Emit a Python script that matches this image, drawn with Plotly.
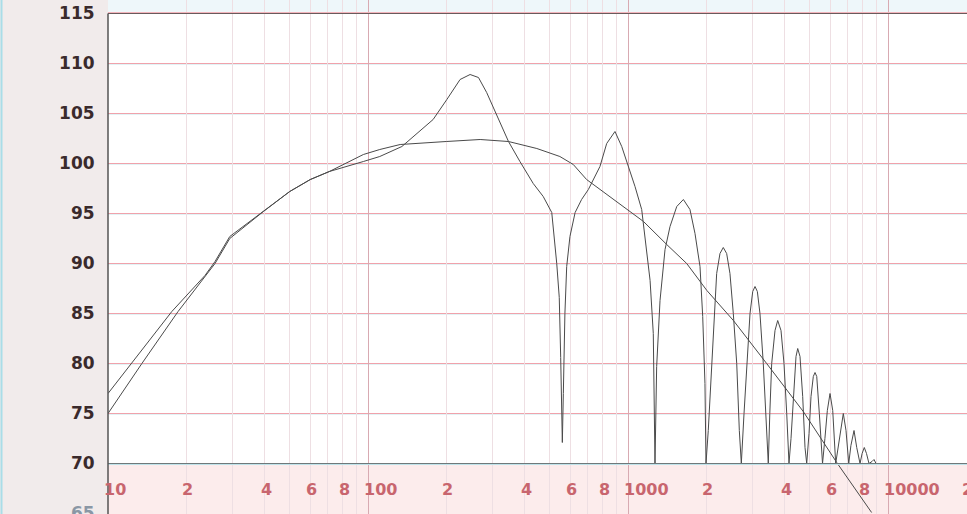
import math
import plotly.graph_objects as go

# ---------------- data ----------------
smooth_freq = [10, 13.5, 18.6, 25.8, 29.4, 39.6, 50, 60, 71, 96, 111, 133, 200, 270, 347,
               446, 547, 616, 693, 780, 879, 1018, 1147, 1409, 1682, 2011, 2543, 3414,
               4721, 6350, 8650]
smooth_db = [75.0, 80.0, 85.2, 90.0, 92.5, 95.2, 97.2, 98.4, 99.2, 100.9, 101.4, 101.9,
             102.2, 102.4, 102.2, 101.5, 100.7, 99.9, 98.4, 97.4, 96.4, 95.2, 94.2, 91.9,
             90.0, 87.3, 84.3, 80.0, 75.2, 70.1, 65.1]

comb_freq = [10, 12.3, 17.6, 23.6, 25.8, 29.4, 39.6, 50, 60, 71, 96, 111, 135, 178, 201,
             226, 247, 266, 286, 308, 347, 384, 432, 472, 494, 509, 532, 544, 551, 556,
             559, 564, 572, 581, 598, 626, 663, 704, 736, 780, 828, 891, 946, 1003, 1064,
             1129, 1181, 1216, 1251, 1270, 1289, 1328, 1388, 1451, 1540, 1633, 1731, 1810,
             1892, 1938, 1977, 1995,
             2036, 2099, 2141, 2193, 2258, 2325, 2396, 2467, 2541, 2619, 2680, 2728,
             2794, 2861, 2946, 3018, 3080, 3144, 3218, 3314, 3416, 3464,
             3511, 3570, 3676, 3765, 3877, 3981, 4078, 4161,
             4236, 4323, 4428, 4495, 4587, 4698, 4795, 4868,
             4969, 5057, 5161, 5240, 5320, 5444, 5600,
             5720, 5843, 5984, 6129, 6293,
             6430, 6578, 6731, 6894, 7062,
             7200, 7402, 7581, 7806,
             7950, 8106, 8266, 8450,
             8679, 8835, 8992]
comb_db = [77.0, 80.0, 85.2, 88.8, 90.2, 92.7, 95.2, 97.2, 98.4, 99.2, 100.2, 100.7, 101.7,
           104.4, 106.4, 108.4, 108.9, 108.6, 107.1, 105.2, 102.2, 100.2, 98.0, 96.7, 95.7,
           95.1, 90.0, 86.6, 80.6, 74.3, 72.1, 77.0, 85.0, 89.7, 92.7, 95.1, 96.4, 97.4,
           98.4, 99.7, 102.0, 103.2, 101.7, 99.7, 97.7, 95.4, 91.4, 88.3, 83.0, 70.0, 79.7,
           86.3, 91.4, 93.7, 95.7, 96.4, 95.4, 93.0, 89.7, 84.7, 78.0, 70.0,
           73.3, 80.0, 85.0, 89.0, 91.0, 91.6, 91.0, 89.0, 85.0, 80.0, 73.3, 70.0,
           75.0, 80.0, 85.0, 87.2, 87.7, 87.2, 85.0, 80.0, 73.3, 70.0,
           75.0, 80.0, 83.3, 84.3, 83.3, 80.0, 75.0, 70.0,
           72.5, 76.7, 80.7, 81.5, 80.7, 76.7, 71.6, 70.0,
           73.0, 76.7, 78.7, 79.1, 78.7, 75.0, 70.0,
           72.5, 75.3, 77.0, 75.3, 70.0,
           71.5, 73.3, 75.0, 73.3, 70.0,
           71.8, 73.3, 71.6, 70.0,
           71.0, 71.6, 71.0, 70.0,
           70.2, 70.4, 70.0]

y_ticks = [70, 75, 80, 85, 90, 95, 100, 105, 110, 115]
x_major = [10, 100, 1000, 10000]
x_minor = [20, 30, 40, 50, 60, 70, 80, 90, 200, 300, 400, 500, 600, 700, 800, 900,
           2000, 3000, 4000, 5000, 6000, 7000, 8000, 9000, 20000]
x_label_vals = [10, 20, 40, 60, 80, 100, 200, 400, 600, 800, 1000, 2000, 4000, 6000,
                8000, 10000, 20000]
x_label_text = ["10", "2", "4", "6", "8", "100", "2", "4", "6", "8", "1000", "2", "4",
                "6", "8", "10000", "2"]

# ---------------- figure ----------------
W, H = 967, 514
L = 108
fig = go.Figure()

line_col = "#4a4a4a"
fig.add_trace(go.Scatter(x=smooth_freq, y=smooth_db, mode="lines",
                         line=dict(color=line_col, width=1), hoverinfo="skip"))
fig.add_trace(go.Scatter(x=comb_freq, y=comb_db, mode="lines",
                         line=dict(color=line_col, width=1), hoverinfo="skip"))

y_hi = 116.35
y_lo = y_hi - H / 10.0
shapes = []
# top light-blue band and bottom pink band
shapes.append(dict(type="rect", xref="paper", yref="y", x0=0, x1=1, y0=115, y1=y_hi,
                   fillcolor="#eef7fa", line=dict(width=0), layer="below"))
shapes.append(dict(type="rect", xref="paper", yref="y", x0=0, x1=1, y0=y_lo, y1=70,
                   fillcolor="#fcecec", line=dict(width=0), layer="below"))
# horizontal grid (pink with a faint cyan shadow)
for yv in y_ticks[1:-1]:
    shapes.append(dict(type="line", xref="paper", yref="y", x0=0, x1=1, y0=yv - 0.1,
                       y1=yv - 0.1, line=dict(color="#e2f3f6", width=1), layer="below"))
    shapes.append(dict(type="line", xref="paper", yref="y", x0=0, x1=1, y0=yv, y1=yv,
                       line=dict(color="#f0a2ab", width=1), layer="below"))
# top border line (pink above dark)
shapes.append(dict(type="line", xref="paper", yref="y", x0=0, x1=1, y0=115.1, y1=115.1,
                   line=dict(color="#f3b5bc", width=1), layer="above"))
shapes.append(dict(type="line", xref="paper", yref="y", x0=0, x1=1, y0=115, y1=115,
                   line=dict(color="#6a5a5c", width=1), layer="above"))
# 70 baseline
shapes.append(dict(type="line", xref="paper", yref="y", x0=0, x1=1, y0=69.9, y1=69.9,
                   line=dict(color="#bfe3ea", width=1), layer="above"))
shapes.append(dict(type="line", xref="paper", yref="y", x0=0, x1=1, y0=70, y1=70,
                   line=dict(color="#6f797b", width=1), layer="above"))
# left axis line
shapes.append(dict(type="line", xref="paper", yref="y", x0=0, x1=0, y0=y_lo, y1=115,
                   line=dict(color="#555555", width=1.5), layer="above"))
# cyan strip on far left
shapes.append(dict(type="line", xref="paper", yref="paper", x0=-106.5 / (W - L),
                   x1=-106.5 / (W - L), y0=0, y1=1,
                   line=dict(color="#a9dde8", width=2), layer="above"))

annotations = []
for v, t in zip(x_label_vals, x_label_text):
    annotations.append(dict(x=math.log10(v), y=67.4, xref="x", yref="y", text=t,
                            showarrow=False, xanchor="left", yanchor="middle", xshift=-6,
                            font=dict(family="DejaVu Sans", size=16, color="#c8656e",
                                      weight=700)))

y_text = [str(v) for v in y_ticks]
fig.update_layout(
    width=W, height=H,
    margin=dict(l=L, r=0, t=0, b=0, pad=0),
    paper_bgcolor="#f1ebeb",
    plot_bgcolor="#ffffff",
    showlegend=False,
    shapes=shapes,
    annotations=annotations,
    xaxis=dict(type="log", range=[1, 1 + (W - L) / 260.0],
               tickvals=x_major, showticklabels=False, ticks="",
               showgrid=True, gridcolor="#d8aab2", gridwidth=1,
               minor=dict(tickvals=x_minor, showgrid=True, gridcolor="#eedfe3",
                          gridwidth=1, ticks=""),
               showline=False, zeroline=False, automargin=False, fixedrange=True),
    yaxis=dict(range=[y_lo, y_hi], tickvals=y_ticks + [65],
               ticktext=y_text + ["<span style='color:#8a97a5'>65</span>"],
               showgrid=False, zeroline=False, showline=False,
               ticks="outside", ticklen=9, tickcolor="rgba(0,0,0,0)",
               ticklabeloverflow="allow",
               tickfont=dict(family="DejaVu Sans", size=17, color="#3a2a2c", weight=700),
               automargin=False, fixedrange=True),
)

fig.write_html("out.html", config={"displayModeBar": False},
               post_script="document.body.style.margin='0';document.body.style.padding='0';")
